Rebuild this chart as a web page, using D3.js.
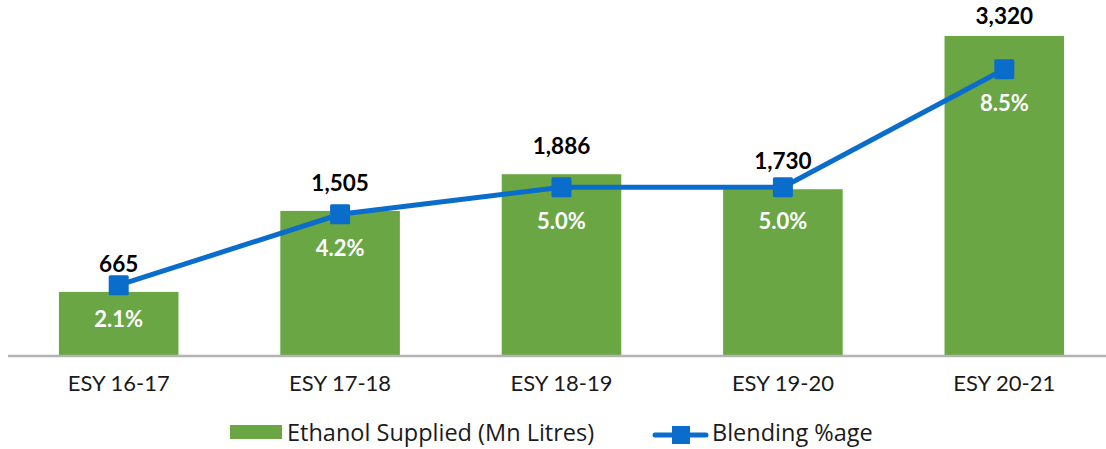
<!DOCTYPE html>
<html>
<head>
<meta charset="utf-8">
<script src="https://cdn.jsdelivr.net/npm/d3@7"></script>
<style>
  body { margin: 0; background: #fff; }
  svg { display: block; font-family: Lato, "Open Sans", sans-serif; }
</style>
</head>
<body>
<div id="chart"></div>
<script>
// chart data
const categories = ["ESY 16-17", "ESY 17-18", "ESY 18-19", "ESY 19-20", "ESY 20-21"];
const ethanolSupplied = [665, 1505, 1886, 1730, 3320];
const blendingPct = [2.1, 4.2, 5.0, 5.0, 8.5];
const seriesNames = ["Ethanol Supplied (Mn Litres)", "Blending %age"];

const WIDTH = 1106;
const HEIGHT = 449;
const BASE_Y = 356;
const TOP_Y = 18.6;
const GREEN = "#6aa643";
const BLUE = "#0a6dcc";

const svg = d3.select("#chart").append("svg")
  .attr("width", WIDTH)
  .attr("height", HEIGHT);

// scales
const x = d3.scaleBand()
  .domain(categories)
  .range([8, 1115])
  .paddingInner(0.46)
  .paddingOuter(0.23);

const y = d3.scaleLinear()
  .domain([0, 3500])
  .range([BASE_Y, TOP_Y]);

const y2 = d3.scaleLinear()
  .domain([0, 10])
  .range([BASE_Y, TOP_Y]);

const cx = (d, i) => x(categories[i]) + x.bandwidth() / 2;

// bars
svg.append("g").selectAll("rect")
  .data(ethanolSupplied)
  .join("rect")
    .attr("x", (d, i) => x(categories[i]))
    .attr("y", d => y(d))
    .attr("width", x.bandwidth())
    .attr("height", d => y(0) - y(d))
    .attr("fill", GREEN);

// x axis
const xAxis = svg.append("g")
  .attr("transform", `translate(0,${BASE_Y})`)
  .call(d3.axisBottom(x).tickSize(0).tickPadding(19));
xAxis.select(".domain").remove();
xAxis.append("line")
  .attr("x1", 8).attr("x2", WIDTH)
  .attr("stroke", "#b3b3b3").attr("stroke-width", 2.5);
xAxis.selectAll(".tick text")
  .attr("font-size", 22)
  .attr("font-family", "Lato, sans-serif")
  .attr("fill", "#1a1a1a");

// bar value labels (kept inside the top edge, like the tall bar)
svg.append("g").selectAll("text")
  .data(ethanolSupplied)
  .join("text")
    .attr("x", cx)
    .attr("y", d => Math.max(y(d) - 20, 24))
    .attr("text-anchor", "middle")
    .attr("font-size", 22.5)
    .attr("font-weight", "bold")
    .attr("fill", "#000")
    .text(d => d3.format(",")(d));

// blending line
const line = d3.line()
  .x((d, i) => cx(d, i))
  .y(d => y2(d));

svg.append("path")
  .datum(blendingPct)
  .attr("d", line)
  .attr("fill", "none")
  .attr("stroke", BLUE)
  .attr("stroke-width", 5);

svg.append("g").selectAll("rect")
  .data(blendingPct)
  .join("rect")
    .attr("x", (d, i) => cx(d, i) - 10)
    .attr("y", d => y2(d) - 10)
    .attr("width", 20)
    .attr("height", 20)
    .attr("rx", 1.5)
    .attr("fill", BLUE);

// percentage labels
svg.append("g").selectAll("text")
  .data(blendingPct)
  .join("text")
    .attr("x", cx)
    .attr("y", d => y2(d) + 42)
    .attr("text-anchor", "middle")
    .attr("font-size", 22)
    .attr("font-weight", "bold")
    .attr("fill", "#fff")
    .text(d => d.toFixed(1) + "%");

// legend
const legend = svg.append("g")
  .attr("font-size", 23.5)
  .attr("font-family", "'Open Sans', sans-serif")
  .attr("fill", "#1a1a1a");
legend.append("rect")
  .attr("x", 230).attr("y", 425)
  .attr("width", 52).attr("height", 14)
  .attr("fill", GREEN);
legend.append("text")
  .attr("x", 287).attr("y", 441)
  .text(seriesNames[0]);
legend.append("line")
  .attr("x1", 655).attr("x2", 706)
  .attr("y1", 435).attr("y2", 435)
  .attr("stroke", BLUE).attr("stroke-width", 5)
  .attr("stroke-linecap", "round");
legend.append("rect")
  .attr("x", 672).attr("y", 426)
  .attr("width", 18).attr("height", 18)
  .attr("fill", BLUE);
legend.append("text")
  .attr("x", 712).attr("y", 441)
  .text(seriesNames[1]);
</script>
</body>
</html>
